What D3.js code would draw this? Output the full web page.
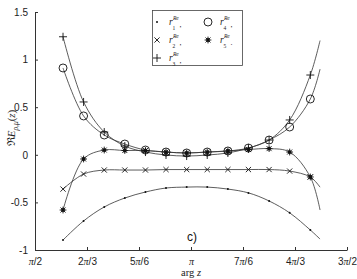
<!DOCTYPE html>
<meta charset="utf-8">
<style>
body { margin: 0; background: #fff; }
.tick text { font-family: "Liberation Sans", Arial, sans-serif; font-size: 10px; fill: #222; }
.curve { fill: none; stroke: #333; stroke-width: 0.8px; }
.mk { stroke: #111; stroke-width: 0.9px; fill: none; }
.leg { font-family: "Liberation Serif", serif; fill: #222; }
</style>
<svg width="357" height="279"></svg>
<script src="https://d3js.org/d3.v7.min.js"></script>
<script>

// sample points (arg z, radians); last point has no marker
var argz = [1.853, 2.06, 2.268, 2.475, 2.683, 2.89, 3.098, 3.305, 3.513, 3.72, 3.928, 4.135, 4.343, 4.441];

var r1 = [-0.895, -0.695, -0.548, -0.454, -0.391, -0.349, -0.339, -0.339, -0.36, -0.40, -0.485, -0.61, -0.79, -0.885];
var r2 = [-0.36, -0.202, -0.16, -0.16, -0.16, -0.155, -0.155, -0.155, -0.155, -0.155, -0.155, -0.171, -0.233, -0.34];
var r3 = [1.24, 0.555, 0.239, 0.092, 0.029, -0.002, -0.013, -0.002, 0.019, 0.071, 0.155, 0.366, 0.838, 1.2];
var r4 = [0.912, 0.408, 0.208, 0.113, 0.05, 0.029, 0.019, 0.029, 0.04, 0.071, 0.155, 0.292, 0.586, 0.9];
var r5 = [-0.58, -0.044, 0.05, 0.045, 0.045, 0.029, 0.019, 0.029, 0.04, 0.055, 0.065, 0.029, -0.233, -0.58];

var xTicks = [Math.PI/2, 2*Math.PI/3, 5*Math.PI/6, Math.PI, 7*Math.PI/6, 4*Math.PI/3, 3*Math.PI/2];
var xTickLabels = [["", "π", "/2"], ["2", "π", "/3"], ["5", "π", "/6"], ["", "π", ""], ["7", "π", "/6"], ["4", "π", "/3"], ["3", "π", "/2"]];
var yTicks = [-1, -0.5, 0, 0.5, 1, 1.5];

var series = [
  {name: "1", values: r1, marker: "dot", end: ","},
  {name: "2", values: r2, marker: "cross", end: ","},
  {name: "3", values: r3, marker: "plus", end: ","},
  {name: "4", values: r4, marker: "circle", end: ","},
  {name: "5", values: r5, marker: "star", end: "."}
];

var svg = d3.select("svg");

var x = d3.scaleLinear().domain([Math.PI/2, 3*Math.PI/2]).range([35, 347]);
var y = d3.scaleLinear().domain([-1, 1.5]).range([250, 12]);

// axes (ticks pointing inside)
var xAxis = svg.append("g")
    .attr("transform", "translate(0,250)")
    .call(d3.axisBottom(x).tickValues(xTicks).tickSizeInner(-3).tickSizeOuter(0).tickFormat(""));
xAxis.selectAll(".tick text").remove();
xAxis.selectAll(".tick").append("text")
    .attr("y", 15)
    .attr("text-anchor", "middle")
    .each(function(d, i) {
      var t = d3.select(this), lab = xTickLabels[i];
      t.append("tspan").text(lab[0]);
      t.append("tspan").attr("font-family", "Liberation Serif, serif").attr("font-style", "italic").text(lab[1]);
      t.append("tspan").text(lab[2]);
    });

var yAxis = svg.append("g")
    .attr("transform", "translate(35,0)")
    .call(d3.axisLeft(y).tickValues(yTicks).tickSizeInner(-3).tickSizeOuter(0).tickPadding(7)
      .tickFormat(function(d) { return String(d); }));

svg.selectAll(".domain").attr("stroke", "#333");
svg.selectAll(".tick line").attr("stroke", "#333");

// curves
var line = d3.line()
    .x(function(d, i) { return x(argz[i]); })
    .y(function(d) { return y(d); })
    .curve(d3.curveCatmullRom.alpha(0.5));

svg.append("g").selectAll("path")
  .data(series)
  .enter().append("path")
    .attr("class", "curve")
    .attr("d", function(d) { return line(d.values); });

function drawMarker(g, type) {
  if (type == "dot") {
    g.append("circle").attr("r", 1).attr("fill", "#111");
  } else if (type == "cross") {
    g.append("path").attr("class", "mk").attr("d", "M-2.6,-2.6L2.6,2.6M-2.6,2.6L2.6,-2.6");
  } else if (type == "plus") {
    g.append("path").attr("class", "mk").attr("d", "M-4,0L4,0M0,-4L0,4");
  } else if (type == "circle") {
    g.append("circle").attr("class", "mk").attr("r", 4);
  } else if (type == "star") {
    g.append("path").attr("class", "mk").attr("stroke-width", 1.1)
      .attr("d", "M-3.4,0L3.4,0M0,-3.4L0,3.4M-2.5,-2.5L2.5,2.5M-2.5,2.5L2.5,-2.5");
    g.append("circle").attr("r", 1.9).attr("fill", "#111");
  }
}

series.forEach(function(s) {
  var pts = s.values.slice(0, s.values.length - 1);
  svg.append("g").selectAll("g")
    .data(pts)
    .enter().append("g")
      .attr("transform", function(d, i) { return "translate(" + x(argz[i]) + "," + y(d) + ")"; })
      .each(function() { drawMarker(d3.select(this), s.marker); });
});

// legend
var legend = svg.append("g");
legend.append("rect")
    .attr("x", 152.5).attr("y", 10.5).attr("width", 90).attr("height", 55)
    .attr("fill", "#fff").attr("stroke", "#444").attr("stroke-width", 0.8);

var legPos = [[157, 22], [157, 40], [157, 58], [208, 22], [208, 40]];
series.forEach(function(s, i) {
  var p = legPos[i];
  var g = legend.append("g").attr("transform", "translate(" + p[0] + "," + p[1] + ")");
  drawMarker(g, s.marker);
  var lx = p[0] + 12;
  legend.append("text").attr("class", "leg")
      .attr("x", lx).attr("y", p[1] + 3)
      .attr("font-size", 9.5).attr("font-style", "italic").text("r");
  legend.append("text").attr("class", "leg")
      .attr("x", lx + 4).attr("y", p[1] - 2.5)
      .attr("font-size", 5.5).attr("font-style", "italic").text("Re");
  legend.append("text").attr("class", "leg")
      .attr("x", lx + 3.5).attr("y", p[1] + 7.5)
      .attr("font-size", 5.5).text(s.name);
  legend.append("text").attr("class", "leg")
      .attr("x", lx + 10.5).attr("y", p[1] + 5)
      .attr("font-size", 8).text(s.end);
});

// y label
var yl = svg.append("text")
    .attr("transform", "translate(15,128) rotate(-90)")
    .attr("text-anchor", "middle")
    .attr("font-family", "Liberation Serif, serif")
    .attr("font-size", 11)
    .attr("fill", "#222");
yl.append("tspan").text("ℜ");
yl.append("tspan").attr("font-style", "italic").text("E");
yl.append("tspan").attr("font-size", 7.5).attr("font-style", "italic").attr("dy", 3).text("ρ,μ");
yl.append("tspan").attr("dy", -3).text("(");
yl.append("tspan").attr("font-style", "italic").text("z");
yl.append("tspan").text(")");

// x label
var xl = svg.append("text")
    .attr("x", 191).attr("y", 276)
    .attr("text-anchor", "middle")
    .attr("font-family", "Liberation Serif, serif")
    .attr("font-size", 10.5)
    .attr("fill", "#222");
xl.append("tspan").text("arg ");
xl.append("tspan").attr("font-style", "italic").text("z");

// panel tag
svg.append("text")
    .attr("x", 192).attr("y", 241)
    .attr("text-anchor", "middle")
    .attr("font-family", "Liberation Sans, Arial, sans-serif")
    .attr("font-size", 12)
    .attr("fill", "#111")
    .text("c)");

</script>
